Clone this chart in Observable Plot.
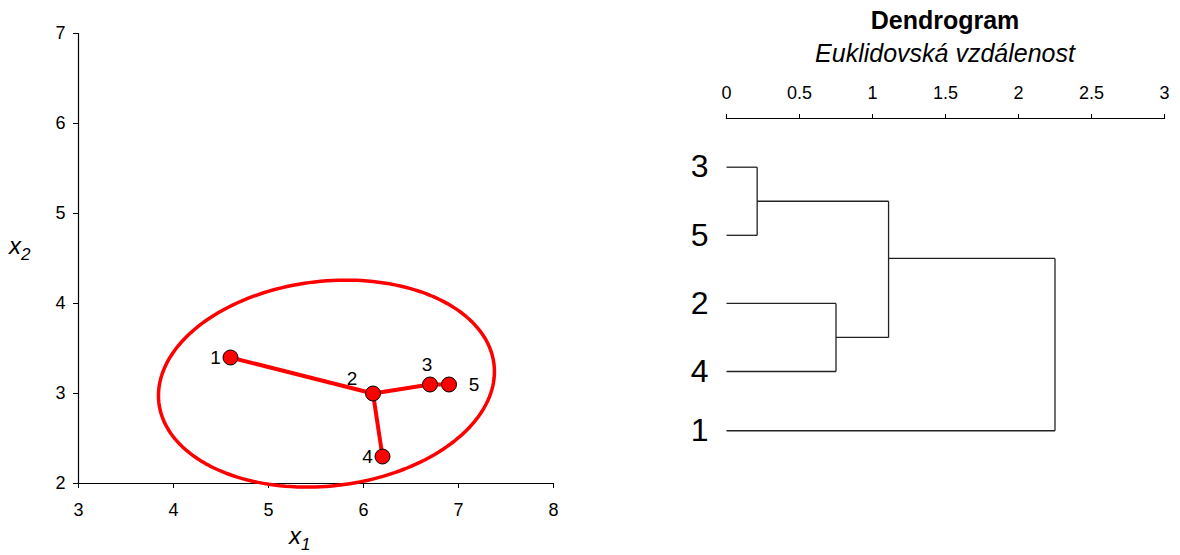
<!DOCTYPE html>
<html>
<head>
<meta charset="utf-8">
<script src="https://cdn.jsdelivr.net/npm/d3@7"></script>
<script src="https://cdn.jsdelivr.net/npm/@observablehq/plot@0.6"></script>
<style>
  html, body { margin: 0; padding: 0; background: #fff; }
  #root { position: relative; width: 1180px; height: 555px; overflow: hidden; font-family: "Liberation Sans", Arial, sans-serif; color: #000; }
</style>
</head>
<body>
<div id="root"></div>
<script>
// ---------- data: scatter (left panel) ----------
const pointIds = ["1", "2", "3", "4", "5"];
const x1Values = [4.6, 6.1, 6.7, 6.2, 6.9];
const x2Values = [3.4, 3.0, 3.1, 2.3, 3.1];
const labelSide = ["left", "upper-left", "up", "left", "right"];
const treeFrom = ["2", "2", "3", "2"];
const treeTo   = ["1", "3", "5", "4"];
const xTicks = [3, 4, 5, 6, 7, 8];
const yTicks = [2, 3, 4, 5, 6, 7];
// ellipse (in data units)
const ellipseCenter = [5.61, 3.11];
const ellipseAxisU = [1.764, 0.212];
const ellipseAxisV = [0.122, -1.13];

// ---------- data: dendrogram (right panel) ----------
const leafLabels = ["3", "5", "2", "4", "1"];
const leafPos = [0, 1, 2, 3, 3.87];
const mergeLeft  = ["3", "2", "3+5", "3+5+2+4"];
const mergeRight = ["5", "4", "2+4", "1"];
const mergeName  = ["3+5", "2+4", "3+5+2+4", "all"];
const mergeHeight = [0.21, 0.75, 1.11, 2.25];
const mergePos = [0.5, 2.5, 1.34, 2.6];
const distTicks = [0, 0.5, 1, 1.5, 2, 2.5, 3];

// ---------- build tables ----------
const points = pointIds.map((id, i) => ({id, x: x1Values[i], y: x2Values[i], side: labelSide[i]}));
const byId = Object.fromEntries(points.map(p => [p.id, p]));
const edges = treeFrom.map((f, i) => ({a: byId[f], b: byId[treeTo[i]]}));
const ellipse = d3.range(0, 361, 2).map(deg => {
  const t = deg * Math.PI / 180;
  return {
    x: ellipseCenter[0] + ellipseAxisU[0] * Math.cos(t) + ellipseAxisV[0] * Math.sin(t),
    y: ellipseCenter[1] + ellipseAxisU[1] * Math.cos(t) + ellipseAxisV[1] * Math.sin(t)
  };
});
const sideOffset = {
  "left": {dx: -15, dy: 0},
  "upper-left": {dx: -21, dy: -15},
  "up": {dx: -3, dy: -20},
  "right": {dx: 25, dy: 0}
};

const root = document.getElementById("root");
const fontStyle = {fontFamily: "'Liberation Sans', Arial, sans-serif", fontSize: "18px", color: "#000", background: "transparent", overflow: "visible"};
const fmt = d => String(d);

const left = Plot.plot({
  width: 580, height: 555,
  marginLeft: 78, marginRight: 27, marginTop: 33, marginBottom: 72,
  style: fontStyle,
  x: {domain: [3, 8]},
  y: {domain: [2, 7]},
  marks: [
    Plot.axisX({ticks: xTicks, tickSize: 5, tickPadding: 15, label: null, tickFormat: fmt, fontSize: 18}),
    Plot.axisY({ticks: yTicks, tickSize: 5, tickPadding: 8, label: null, tickFormat: fmt, fontSize: 18}),
    Plot.ruleY([2], {stroke: "#000", strokeWidth: 1.2}),
    Plot.ruleX([3], {stroke: "#000", strokeWidth: 1.2}),
    Plot.line(ellipse, {x: "x", y: "y", stroke: "#f00", strokeWidth: 3.5, curve: "linear"}),
    Plot.link(edges, {x1: d => d.a.x, y1: d => d.a.y, x2: d => d.b.x, y2: d => d.b.y, stroke: "#f00", strokeWidth: 4}),
    Plot.dot(points, {x: "x", y: "y", r: 7.5, fill: "#f00", stroke: "#000", strokeWidth: 1}),
    ...Object.keys(sideOffset).map(side =>
      Plot.text(points.filter(p => p.side === side), {
        x: "x", y: "y", text: "id", fontSize: 19,
        dx: sideOffset[side].dx, dy: sideOffset[side].dy, fill: "#000"
      }))
  ]
});
left.style.position = "absolute";
left.style.left = "0px";
left.style.top = "0px";
root.appendChild(left);

// dendrogram links
const posOf = {};
const heightOf = {};
leafLabels.forEach((l, i) => { posOf[l] = leafPos[i]; heightOf[l] = 0; });
const dendroLinks = [];
mergeName.forEach((n, i) => {
  const L = mergeLeft[i], R = mergeRight[i], h = mergeHeight[i];
  dendroLinks.push({x1: heightOf[L], y1: posOf[L], x2: h, y2: posOf[L]});
  dendroLinks.push({x1: heightOf[R], y1: posOf[R], x2: h, y2: posOf[R]});
  dendroLinks.push({x1: h, y1: posOf[L], x2: h, y2: posOf[R]});
  posOf[n] = mergePos[i];
  heightOf[n] = h;
});
const leaves = leafLabels.map((l, i) => ({label: l, pos: leafPos[i]}));

const right = Plot.plot({
  width: 580, height: 555,
  marginLeft: 126, marginRight: 16, marginTop: 118, marginBottom: 40,
  style: fontStyle,
  x: {domain: [0, 3]},
  y: {domain: [0, 3], range: [166.7, 371], axis: null},
  marks: [
    Plot.axisX({anchor: "top", ticks: distTicks, tickSize: 5, tickPadding: 15, label: null, tickFormat: fmt, fontSize: 18}),
    Plot.frame({anchor: "top", stroke: "#000", strokeWidth: 1.2}),
    Plot.link(dendroLinks, {x1: "x1", y1: "y1", x2: "x2", y2: "y2", stroke: "#222", strokeWidth: 1.3}),
    Plot.text(leaves, {x: 0, y: "pos", text: "label", textAnchor: "end", dx: -18, fontSize: 32, fill: "#000"})
  ]
});
right.style.position = "absolute";
right.style.left = "600px";
right.style.top = "0px";
root.appendChild(right);

// titles and axis names
const addDiv = (html, css) => { const d = document.createElement("div"); d.innerHTML = html; d.style.cssText = css; root.appendChild(d); };
addDiv("Dendrogram", "position:absolute;left:645px;width:600px;top:6px;text-align:center;font-weight:bold;font-size:25px;");
addDiv("Euklidovská vzdálenost", "position:absolute;left:645px;width:600px;top:39px;text-align:center;font-style:italic;font-size:25px;");
addDiv("<i>x</i><sub style='font-style:italic;font-size:17px;'>1</sub>", "position:absolute;left:289px;top:522px;font-size:24px;line-height:28px;");
addDiv("<i>x</i><sub style='font-style:italic;font-size:17px;'>2</sub>", "position:absolute;left:9px;top:232px;font-size:24px;line-height:28px;");
</script>
</body>
</html>
